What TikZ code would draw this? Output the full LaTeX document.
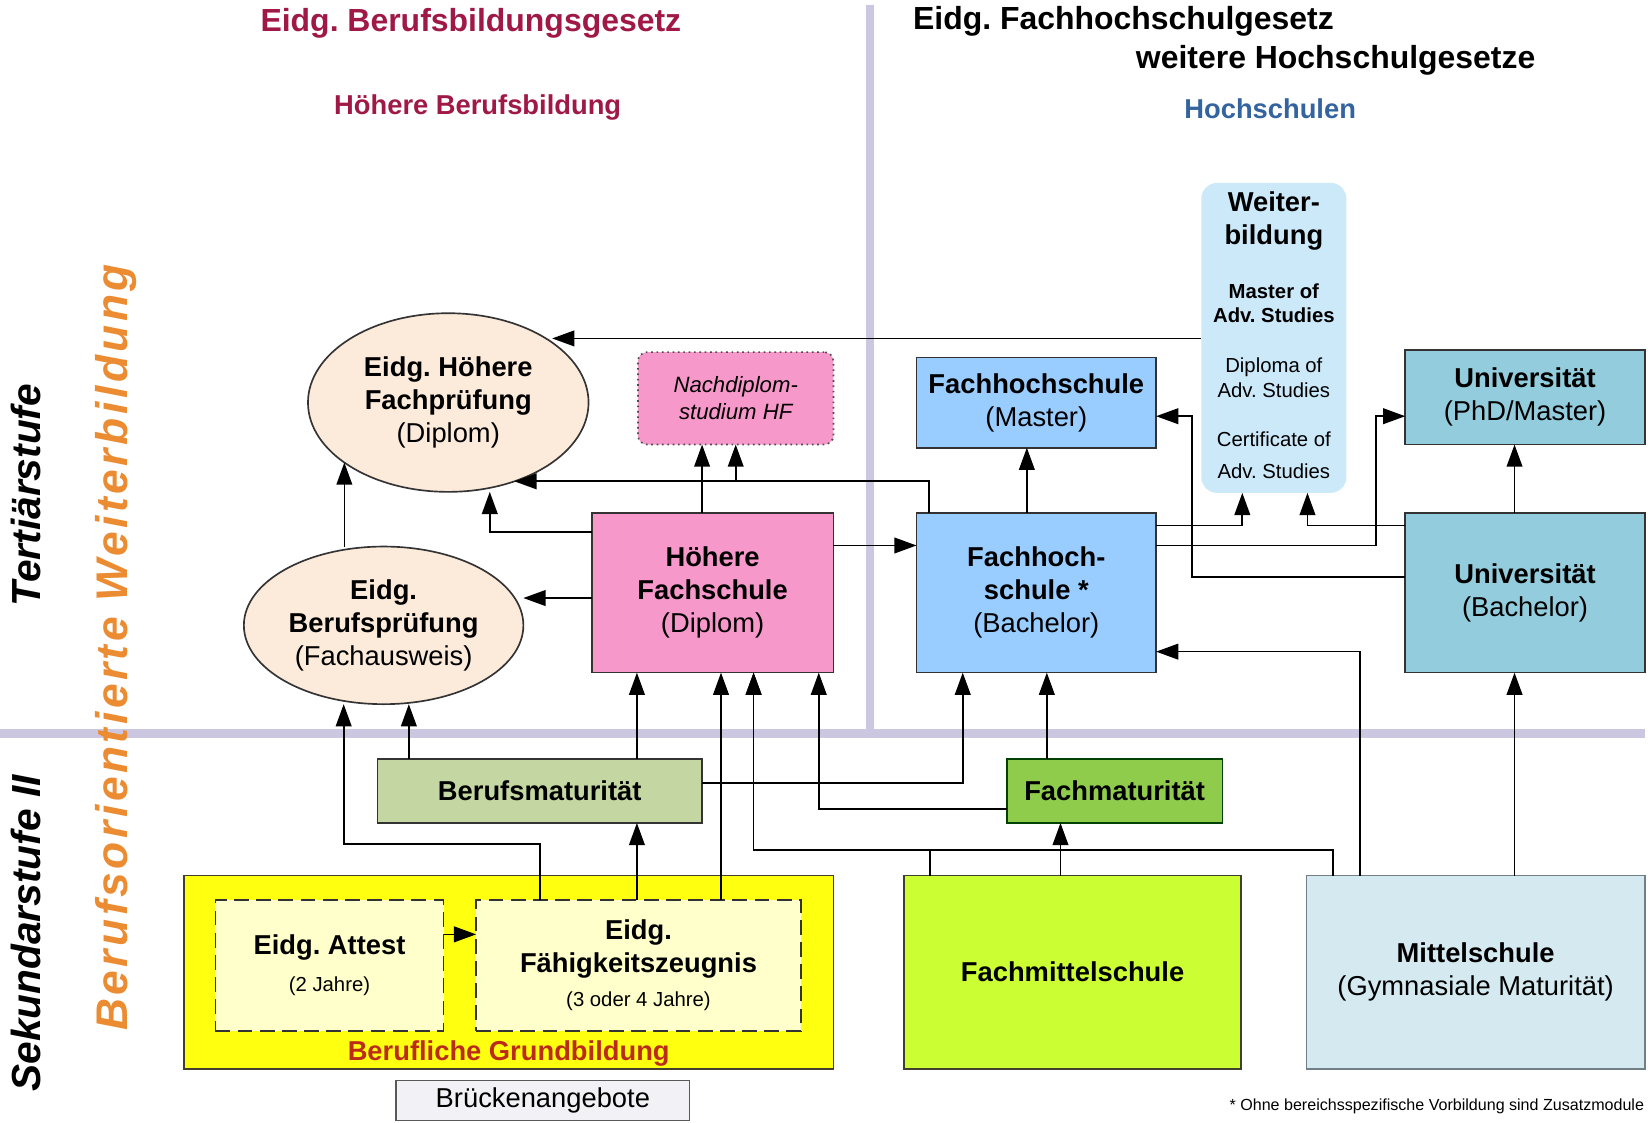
\documentclass[tikz,border=0pt]{standalone}
\usepackage{fontspec}
\setmainfont{Liberation Sans}
\usetikzlibrary{shapes,arrows.meta,positioning,calc}
\frenchspacing

\definecolor{peach}{RGB}{252,234,218}
\definecolor{hfpink}{RGB}{247,152,202}
\definecolor{fhblue}{RGB}{153,204,255}
\definecolor{uniteal}{RGB}{147,205,221}
\definecolor{wbblue}{RGB}{204,233,250}
\definecolor{bmgreen}{RGB}{196,215,162}
\definecolor{fmgreen}{RGB}{143,204,76}
\definecolor{gbyellow}{RGB}{255,255,16}
\definecolor{paleyellow}{RGB}{255,255,204}
\definecolor{fmslime}{RGB}{204,255,51}
\definecolor{msblue}{RGB}{212,234,240}
\definecolor{bagrey}{RGB}{242,242,246}
\definecolor{lavender}{RGB}{204,199,224}
\definecolor{crimson}{RGB}{160,25,70}
\definecolor{hsblue}{RGB}{52,100,160}
\definecolor{grundred}{RGB}{186,44,24}
\definecolor{orangelbl}{RGB}{235,140,50}

\tikzstyle{block} = [rectangle, draw=black!80, align=center, inner sep=0pt, outer sep=0pt, font=\fontsize{14.8}{17.8}\selectfont]
\tikzstyle{exam} = [ellipse, draw=black!80, fill=peach, align=center, inner sep=0pt, outer sep=0pt, font=\fontsize{14.8}{17.8}\selectfont]
\tikzstyle{dashbox} = [block, dash pattern=on 8pt off 4pt, fill=paleyellow]
\tikzstyle{header} = [inner sep=0pt, font=\fontsize{17.3}{20}\selectfont\bfseries]
\tikzstyle{subheader} = [inner sep=0pt, font=\fontsize{14.8}{17}\selectfont\bfseries]
\tikzstyle{stagelabel} = [rotate=90, inner sep=0pt, font=\fontsize{22}{26}\selectfont\bfseries\itshape]
\tikzstyle{divider} = [line width=4.5pt, lavender]

\begin{document}
\begin{tikzpicture}[x=0.02cm, y=-0.02cm, >={Triangle[length=12pt,width=8.5pt]}, line width=0.9pt]
    \useasboundingbox (0,0) rectangle (1568,1068);

    % dividers
    \draw[divider] (828,5) -- (828,698);
    \draw[divider] (0,698) -- (1565,698);

    % headers
    \node[header, text=crimson] (lawBB) at (448,22) {Eidg. Berufsbildungsgesetz};
    \node[header, anchor=west] (lawFH) at (868,20) {Eidg. Fachhochschulgesetz};
    \node[header, anchor=west] (lawHS) at (1080,57) {weitere Hochschulgesetze};
    \node[subheader, text=crimson] (areaHB) at (454.5,102) {Höhere Berufsbildung};
    \node[subheader, text=hsblue] (areaHS) at (1208.5,103) {Hochschulen};

    \node[stagelabel] (tert) at (25,471) {Tertiärstufe};
    \node[stagelabel] (sek) at (25,888) {Sekundarstufe II};
    \node[stagelabel, text=orangelbl, font=\fontsize{24}{28}\selectfont\bfseries\itshape] (bow) at (110,616) {\addfontfeature{LetterSpace=8}Berufsorientierte Weiterbildung};

    % tertiary level
    \node[exam, minimum width=5.34cm, minimum height=3.4cm] (HFP) at (426.5,383) {\textbf{Eidg. Höhere}\\\textbf{Fachprüfung}\\(Diplom)};
    \node[exam, minimum width=5.32cm, minimum height=3cm] (BP) at (365,595) {\textbf{Eidg.}\\\textbf{Berufsprüfung}\\(Fachausweis)};
    \node[block, draw=black!70, dotted, fill=hfpink, rounded corners=5pt, minimum width=3.72cm, minimum height=1.76cm, font=\fontsize{12}{14.8}\selectfont\itshape] (ND) at (700,379) {Nachdiplom-\\studium HF};
    \node[block, fill=hfpink, minimum width=4.6cm, minimum height=3.04cm] (HF) at (678,564) {\textbf{Höhere}\\\textbf{Fachschule}\\(Diplom)};
    \node[block, fill=fhblue, minimum width=4.56cm, minimum height=1.72cm] (FHM) at (986,383) {\textbf{Fachhochschule}\\(Master)};
    \node[block, fill=fhblue, minimum width=4.56cm, minimum height=3.04cm] (FHB) at (986,564) {\textbf{Fachhoch-}\\\textbf{schule *}\\(Bachelor)};
    \node[block, draw=none, fill=wbblue, rounded corners=0.3cm, minimum width=2.76cm, minimum height=5.9cm] (WB) at (1212,321.5) {};
    \node[block, fill=uniteal, minimum width=4.56cm, minimum height=1.8cm] (UM) at (1451,378) {\textbf{Universität}\\(PhD/Master)};
    \node[block, fill=uniteal, minimum width=4.56cm, minimum height=3.04cm] (UB) at (1451,564) {\textbf{Universität}\\(Bachelor)};

    \node[align=center, font=\fontsize{14.8}{17.6}\selectfont\bfseries] (wbTitle) at (1212,210.5) {Weiter-\\bildung};
    \node[align=center, font=\fontsize{11}{13}\selectfont\bfseries] (wbMAS) at (1212,288.5) {Master of\\Adv. Studies};
    \node[align=center, font=\fontsize{11}{13.5}\selectfont] (wbDAS) at (1212,359) {Diploma of\\Adv. Studies};
    \node[align=center, font=\fontsize{11}{17}\selectfont] (wbCAS) at (1212,433) {Certificate of\\Adv. Studies};

    % secondary level
    \node[block, fill=bmgreen, minimum width=6.18cm, minimum height=1.22cm] (BM) at (513.5,752.5) {\textbf{Berufsmaturität}};
    \node[block, draw=black!75!green, fill=fmgreen, minimum width=4.1cm, minimum height=1.22cm] (FM) at (1060.5,752.5) {\textbf{Fachmaturität}};
    \node[block, draw=black!70!olive, fill=gbyellow, minimum width=12.36cm, minimum height=3.68cm] (BG) at (484,925) {};
    \node[inner sep=1pt, text=grundred, font=\fontsize{14.8}{17}\selectfont\bfseries, above=0pt of BG.south] (BGtext) {Berufliche Grundbildung};
    \node[dashbox, minimum width=4.34cm, minimum height=2.5cm] (AT) at (313.5,918.5) {\textbf{Eidg. Attest}\\[2pt]{\fontsize{11}{13}\selectfont (2 Jahre)}};
    \node[dashbox, minimum width=6.18cm, minimum height=2.5cm] (EFZ) at (607.5,918.5) {\textbf{Eidg.}\\\textbf{Fähigkeitszeugnis}\\[1pt]{\fontsize{11}{13}\selectfont (3 oder 4 Jahre)}};
    \node[block, draw=black!70!olive, fill=fmslime, minimum width=6.42cm, minimum height=3.68cm] (FMS) at (1020.5,925) {\textbf{Fachmittelschule}};
    \node[block, draw=black!60!cyan!40!gray, fill=msblue, minimum width=6.44cm, minimum height=3.68cm] (MS) at (1404,925) {\textbf{Mittelschule}\\(Gymnasiale Maturität)};
    \node[block, draw=black!65, fill=bagrey, minimum width=5.58cm, minimum height=0.76cm] (BA) at (516.5,1047) {Brückenangebote};

    \node[anchor=east, inner sep=0pt, font=\fontsize{8.7}{10}\selectfont] (fnote) at (1565,1053) {* Ohne bereichsspezifische Vorbildung sind Zusatzmodule};

    % connectors, tertiary
    \draw[->] (WB.west |- 0,322) -- (HFP.30 |- 0,322);
    \draw[->] (HF.west |- 0,506) -| (HFP.south -| 466,0);
    \draw[->] (FHB.north west) ++(12,0) |- (HFP.-50);
    \draw[->] (FHB.north west) ++(12,0) |- (HFP.-50 -| 700,0) -- (ND.south -| 700,0);
    \draw[->] (HF.north -| 668,0) -- (ND.south -| 668,0);
    \draw[->] (BP.north -| HFP.210) -- (HFP.210);
    \draw[->] (HF.west |- 0,569) -- (BP.east |- 0,569);
    \draw[->] (HF.east |- 0,519) -- (FHB.west |- 0,519);
    \draw[->] (FHB.north -| 977,0) -- (FHM.south -| 977,0);
    \draw[->] (FHB.east |- 0,500) -| (WB.south -| 1182,0);
    \draw[->] (FHB.east |- 0,519) -| (1309,396) -- (UM.west |- 0,396);
    \draw[->] (UB.west |- 0,549) -| (1134,396) -- (FHM.east |- 0,396);
    \draw[->] (UB.west |- 0,500) -| (WB.south -| 1244,0);
    \draw[->] (UB.north -| 1441,0) -- (UM.south -| 1441,0);

    % connectors, secondary
    \draw[->] (MS.north -| 1294,0) |- (FHB.east |- 0,620);
    \draw[->] (MS.north -| 1441,0) -- (UB.south -| 1441,0);
    \draw[->] (MS.north -| 1268,0) |- (717,809) -- (HF.south -| 717,0);
    \draw[->] (FMS.north -| 885,0) |- (717,809) -- (HF.south -| 717,0);
    \draw[->] (FMS.north -| 1009,0) -- (FM.south -| 1009,0);
    \draw[->] (FM.north -| 996,0) -- (FHB.south -| 996,0);
    \draw[->] (FM.west |- 0,770) -| (HF.south -| 779,0);
    \draw[->] (BM.east |- 0,745) -| (FHB.south -| 916,0);
    \draw[->] (BM.north -| 606,0) -- (HF.south -| 606,0);
    \draw[->] (BM.north -| 389,0) -- (BP.south -| 389,0);
    \draw[->] (EFZ.north -| 514,0) |- (327,803) -- (BP.south -| 327,0);
    \draw[->] (EFZ.north -| 606,0) -- (BM.south -| 606,0);
    \draw[->] (EFZ.north -| 686,0) -- (HF.south -| 686,0);
    \draw[->] (AT.east |- 0,889) -- (EFZ.west |- 0,889);
\end{tikzpicture}
\end{document}
